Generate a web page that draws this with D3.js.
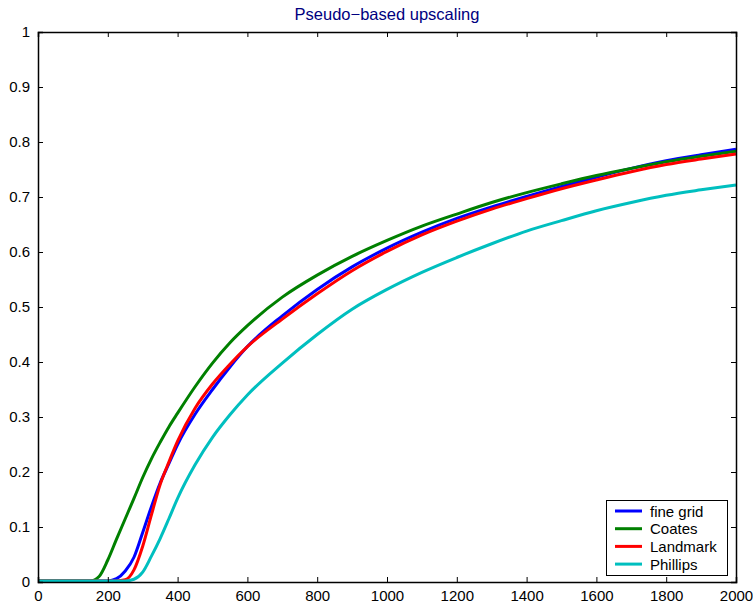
<!DOCTYPE html>
<html>
<head>
<meta charset="utf-8">
<script src="https://cdn.jsdelivr.net/npm/d3@7"></script>
<style>
  body { margin: 0; background: #fff; }
  text { font-family: "Liberation Sans", Arial, sans-serif; }
</style>
</head>
<body>
<svg id="chart" width="753" height="606"></svg>
<script>
// sample positions (shared by all curves)
const xs = [0, 100, 150, 175, 200, 225, 250, 275, 300, 325, 350, 375, 400, 450, 500, 550, 600,
            700, 800, 900, 1000, 1100, 1200, 1300, 1400, 1500, 1600, 1700, 1800, 1900, 2000];

const fineGrid = [0.002, 0.002, 0.002, 0.002, 0.002, 0.006, 0.02, 0.045, 0.09, 0.137, 0.18, 0.215, 0.25, 0.305, 0.35, 0.391, 0.428,
                  0.484, 0.532, 0.573, 0.607, 0.636, 0.661, 0.682, 0.701, 0.719, 0.736, 0.752, 0.766, 0.777, 0.787];
const coates   = [0.002, 0.002, 0.002, 0.01, 0.04, 0.078, 0.115, 0.152, 0.19, 0.224, 0.254, 0.282, 0.307, 0.355, 0.398, 0.435, 0.466,
                  0.518, 0.558, 0.592, 0.621, 0.647, 0.669, 0.69, 0.708, 0.724, 0.739, 0.752, 0.764, 0.774, 0.783];
const landmark = [0.002, 0.002, 0.002, 0.002, 0.002, 0.002, 0.004, 0.022, 0.065, 0.122, 0.177, 0.218, 0.256, 0.316, 0.36, 0.396, 0.428,
                  0.478, 0.524, 0.566, 0.601, 0.631, 0.656, 0.678, 0.697, 0.715, 0.731, 0.746, 0.759, 0.769, 0.778];
const phillips = [0.002, 0.002, 0.002, 0.002, 0.002, 0.002, 0.002, 0.005, 0.018, 0.047, 0.079, 0.115, 0.152, 0.213, 0.263, 0.304, 0.34,
                  0.398, 0.45, 0.496, 0.532, 0.563, 0.59, 0.615, 0.638, 0.657, 0.675, 0.69, 0.703, 0.713, 0.722];

const seriesNames  = ["fine grid", "Coates", "Landmark", "Phillips"];
const seriesColors = ["#0000ff", "#008000", "#ff0000", "#00bfbf"];
const seriesValues = [fineGrid, coates, landmark, phillips];

const xTicks = d3.range(0, 2001, 200);
const yTicks = d3.range(0, 11).map(d => d / 10);

const svg = d3.select("#chart");
const margin = { left: 38, right: 17, top: 32, bottom: 24 };
const W = 753, H = 606;

const x = d3.scaleLinear().domain([0, 2000]).range([margin.left, W - margin.right]);
const y = d3.scaleLinear().domain([0, 1]).range([H - margin.bottom, margin.top]);

// title
svg.append("text")
    .attr("x", (x(0) + x(2000)) / 2)
    .attr("y", 20)
    .attr("text-anchor", "middle")
    .attr("fill", "#000080")
    .style("font-size", "16.5px")
    .text("Pseudo\u2212based upscaling");

// curves (drawn first, box on top)
const line = d3.line()
    .x((d, i) => x(xs[i]))
    .y(d => y(d))
    .curve(d3.curveMonotoneX);

seriesValues.forEach((vals, k) => {
    svg.append("path")
        .datum(vals)
        .attr("fill", "none")
        .attr("stroke", seriesColors[k])
        .attr("stroke-width", 3)
        .attr("stroke-linejoin", "round")
        .attr("d", line);
});

// axes with inward ticks, mirrored on top and right
const tl = 5;
const axB = svg.append("g").attr("transform", `translate(0,${y(0)})`)
    .call(d3.axisBottom(x).tickValues(xTicks).tickSize(-tl).tickPadding(8).tickFormat(d3.format("d")));
const axT = svg.append("g").attr("transform", `translate(0,${y(1)})`)
    .call(d3.axisTop(x).tickValues(xTicks).tickSize(-tl).tickFormat(""));
const axL = svg.append("g").attr("transform", `translate(${x(0)},0)`)
    .call(d3.axisLeft(y).tickValues(yTicks).tickSize(-tl).tickPadding(8).tickFormat(d => d === 0 || d === 1 ? d3.format("d")(d) : d3.format(".1f")(d)));
const axR = svg.append("g").attr("transform", `translate(${x(2000)},0)`)
    .call(d3.axisRight(y).tickValues(yTicks).tickSize(-tl).tickFormat(""));

[axB, axT, axL, axR].forEach(g => {
    g.select(".domain").attr("stroke", "#000").attr("stroke-width", 1.5);
    g.selectAll(".tick line").attr("stroke", "#000");
    g.selectAll(".tick text").attr("fill", "#000").style("font-size", "15px")
        .style("font-family", "'Liberation Sans', Arial, sans-serif");
});

// legend
const lg = svg.append("g");
lg.append("rect")
    .attr("x", 606.5).attr("y", 500.5)
    .attr("width", 121).attr("height", 75)
    .attr("fill", "#fff")
    .attr("stroke", "#000")
    .attr("stroke-width", 1);

seriesNames.forEach((name, i) => {
    const ly = 511 + i * 17.7;
    lg.append("line")
        .attr("x1", 615).attr("x2", 642)
        .attr("y1", ly).attr("y2", ly)
        .attr("stroke", seriesColors[i])
        .attr("stroke-width", 3);
    lg.append("text")
        .attr("x", 650).attr("y", ly + 5.5)
        .attr("fill", "#000")
        .style("font-size", "15px")
        .text(name);
});
</script>
</body>
</html>
